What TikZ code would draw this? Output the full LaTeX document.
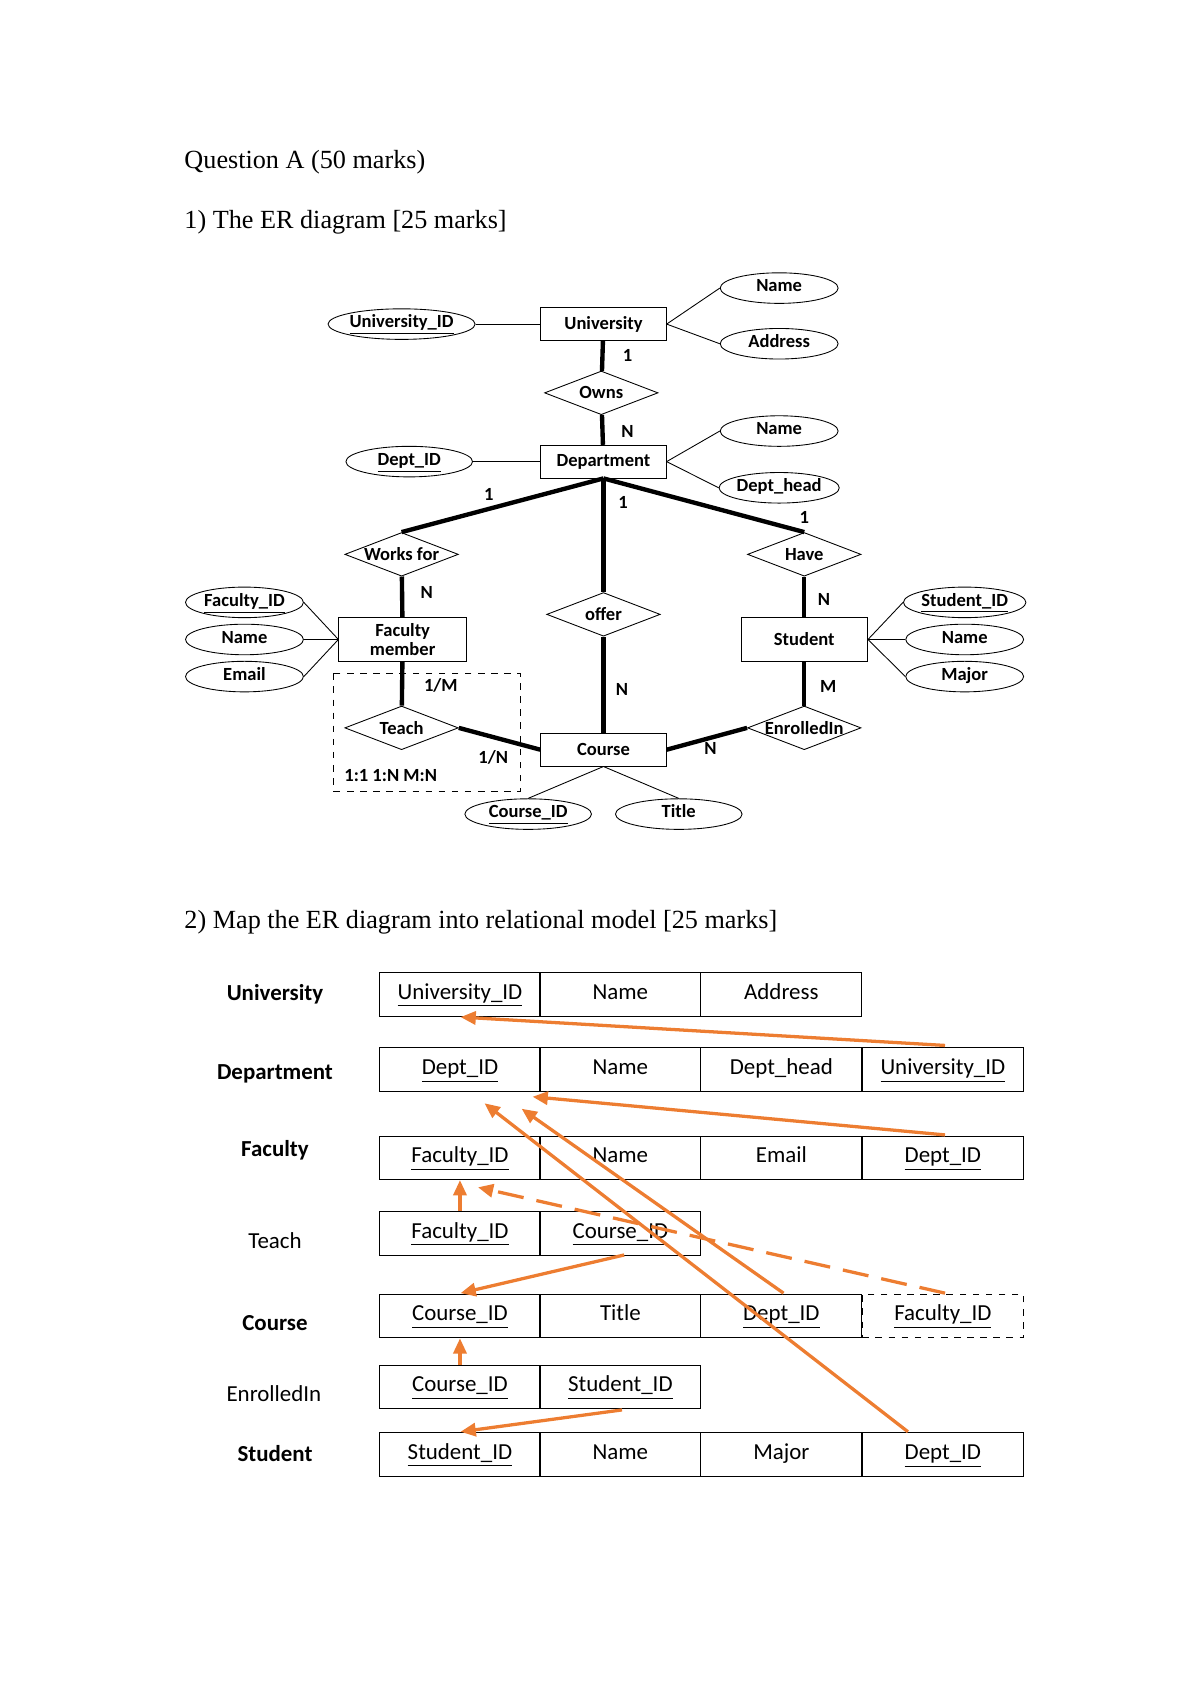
\documentclass[tikz,border=0pt]{standalone}
\usepackage{fontspec}
\setmainfont{Liberation Serif}
\newfontfamily\calfont{Carlito}
\usetikzlibrary{shapes.geometric,arrows.meta}
\definecolor{org}{RGB}{237,125,49}
\begin{document}
\begin{tikzpicture}[x=0.5pt,y=-0.5pt,
 ent/.style={draw,rectangle,minimum width=57.5pt,minimum height=15pt,inner sep=1pt,font=\calfont\bfseries\fontsize{8.5}{9}\selectfont,align=center},
 attr/.style={draw,ellipse,minimum width=54pt,minimum height=14pt,inner sep=0pt,text height=6pt,text depth=2.5pt,font=\calfont\bfseries\fontsize{8.5}{9}\selectfont},
 rel/.style={draw,diamond,minimum width=52pt,minimum height=20pt,inner sep=0pt,aspect=2.6,font=\calfont\bfseries\fontsize{8.5}{9}\selectfont},
 lab/.style={font=\calfont\bfseries\fontsize{8.5}{9}\selectfont,inner sep=0pt},
 thk/.style={line width=2pt},
 cell/.style={draw,rectangle,minimum width=73.75pt,minimum height=20pt,inner sep=0pt,text height=7.5pt,text depth=3pt,font=\calfont\fontsize{10.5}{12}\selectfont},
 rl/.style={font=\calfont\bfseries\fontsize{10.5}{12}\selectfont},
 oa/.style={org,line width=1.5pt,-{Triangle[length=7pt,width=6pt]}}]
\useasboundingbox (0,0) rectangle (1100,1556);
\node[anchor=west,font=\fontsize{12}{14}\selectfont] (t1) at (162,149) {Question A (50 marks)};
\node[anchor=west,font=\fontsize{12}{14}\selectfont] (t2) at (162,204) {1) The ER diagram [25 marks]};
\node[anchor=west,font=\fontsize{12}{14}\selectfont] (t3) at (162,845) {2) Map the ER diagram into relational model [25 marks]};
% ER
\node[ent] (uni) at (553,297) {University};
\node[attr] (un) at (714,264) {Name};
\node[attr] (ua) at (714,315) {Address};
\node[attr,minimum width=65pt] (uid) at (368,297) {\underline{University\_ID}};
\node[rel] (owns) at (551,360) {Owns};
\node[ent] (dep) at (553,423) {Department};
\node[attr] (dn) at (714,395) {Name};
\node[attr] (dh) at (714,447) {Dept\_head};
\node[attr,minimum width=58pt] (did) at (375,423) {\underline{Dept\_ID}};
\node[rel] (wf) at (368,508) {Works for};
\node[rel] (have) at (737,508) {Have};
\node[rel] (offer) at (553,563) {offer};
\node[ent,minimum width=58.5pt,minimum height=20pt,inner sep=0pt] (fac) at (369,586) {Faculty\\member};
\node[ent,minimum width=58pt,minimum height=20pt] (stu) at (737,586) {Student};
\node[attr] (fid) at (224,552) {\underline{Faculty\_ID}};
\node[attr] (fn) at (224,586) {Name};
\node[attr] (fe) at (224,620) {Email};
\node[attr] (sid) at (884,552) {\underline{Student\_ID}};
\node[attr] (sn) at (884,586) {Name};
\node[attr] (sm) at (884,620) {Major};
\node[rel] (teach) at (368,667) {Teach};
\node[ent] (crs) at (553,687) {Course};
\node[rel] (enr) at (737,667) {EnrolledIn};
\node[attr,minimum width=58pt] (cid) at (484,746) {\underline{Course\_ID}};
\node[attr,minimum width=58pt] (ctl) at (622,746) {Title};
\draw[dashed] (306,617) rectangle (477,725);
\node[lab] (l11) at (358,711) {1:1 1:N M:N};
\draw (uni.east) -- (un.west); \draw (uni.east) -- (ua.west); \draw (uid) -- (uni);
\draw (dep.east) -- (dn.west); \draw (dep.east) -- (dh.west); \draw (did) -- (dep);
\draw[thk] (uni) -- (owns); \draw[thk] (owns) -- (dep);
\draw[thk] (dep.south) -- (wf.north); \draw[thk] (dep.south) -- (have.north); \draw[thk] (dep.south) -- (offer.north);
\draw[thk] (wf) -- (fac); \draw[thk] (have) -- (stu); \draw[thk] (offer) -- (crs);
\draw[thk] (fac) -- (teach); \draw[thk] (teach.east) -- (crs.west);
\draw[thk] (stu) -- (enr); \draw[thk] (enr.west) -- (crs.east);
\foreach \a in {fid,fn,fe} \draw (\a.east) -- (fac.west);
\foreach \a in {sid,sn,sm} \draw (\a.west) -- (stu.east);
\draw (crs.south) -- (cid.north); \draw (crs.south) -- (ctl.north);
\node[lab] at (575,326) {1}; \node[lab] at (575,395) {N};
\node[lab] at (448,453) {1}; \node[lab] at (571,460) {1}; \node[lab] at (737,474) {1};
\node[lab] at (391,543) {N}; \node[lab] at (755,549) {N};
\node[lab] at (404,628) {1/M}; \node[lab] at (452,694) {1/N};
\node[lab] at (570,632) {N}; \node[lab] at (759,629) {M}; \node[lab] at (651,686) {N};
% relational
\node[rl] at (252,911) {University};
\node[rl] at (252,984) {Department};
\node[rl] at (252,1054) {Faculty};
\node[font=\calfont\fontsize{10.5}{12}\selectfont] at (252,1137) {Teach};
\node[rl] at (252,1212) {Course};
\node[font=\calfont\fontsize{10.5}{12}\selectfont] at (251,1277) {EnrolledIn};
\node[rl] at (252,1332) {Student};
\node[cell] (u1) at (421.5,911) {\underline{University\_ID}};
\node[cell] (u2) at (568.5,911) {Name};
\node[cell] (u3) at (716,911) {Address};
\node[cell] (d1) at (421.5,980) {\underline{Dept\_ID}};
\node[cell] (d2) at (568.5,980) {Name};
\node[cell] (d3) at (716,980) {Dept\_head};
\node[cell] (d4) at (864,980) {\underline{University\_ID}};
\node[cell] (f1) at (421.5,1061) {\underline{Faculty\_ID}};
\node[cell] (f2) at (568.5,1061) {Name};
\node[cell] (f3) at (716,1061) {Email};
\node[cell] (f4) at (864,1061) {\underline{Dept\_ID}};
\node[cell] (te1) at (421.5,1130) {\underline{Faculty\_ID}};
\node[cell] (te2) at (568.5,1130) {\underline{Course\_ID}};
\node[cell] (c1) at (421.5,1206) {\underline{Course\_ID}};
\node[cell] (c2) at (568.5,1206) {Title};
\node[cell] (c3) at (716,1206) {\underline{Dept\_ID}};
\node[cell,dashed] (c4) at (864,1206) {\underline{Faculty\_ID}};
\node[cell] (e1) at (421.5,1271) {\underline{Course\_ID}};
\node[cell] (e2) at (568.5,1271) {\underline{Student\_ID}};
\node[cell] (s1) at (421.5,1333) {\underline{Student\_ID}};
\node[cell] (s2) at (568.5,1333) {Name};
\node[cell] (s3) at (716,1333) {Major};
\node[cell] (s4) at (864,1333) {\underline{Dept\_ID}};
\coordinate (a1) at (866,958); \coordinate (b1) at (422,932);
\coordinate (a2) at (866,1040); \coordinate (b2) at (488,1005);
\coordinate (a3) at (718,1185); \coordinate (b3) at (478,1016);
\coordinate (a4) at (832,1312); \coordinate (b4) at (444,1011);
\coordinate (a5) at (866,1185); \coordinate (b5) at (438,1088);
\coordinate (b7) at (422,1185); \coordinate (a7) at (572,1150);
\coordinate (b9) at (422,1312); \coordinate (a9) at (570,1292);
\draw[oa] (a1) -- (b1);
\draw[oa] (a2) -- (b2);
\draw[oa] (a3) -- (b3);
\draw[oa] (a4) -- (b4);
\draw[oa,dash pattern=on 12pt off 6pt] (a5) -- (b5);
\draw[oa] (te1.north) -- (f1.south);
\draw[oa] (a7) -- (b7);
\draw[oa] (e1.north) -- (c1.south);
\draw[oa] (a9) -- (b9);
\end{tikzpicture}
\end{document}
